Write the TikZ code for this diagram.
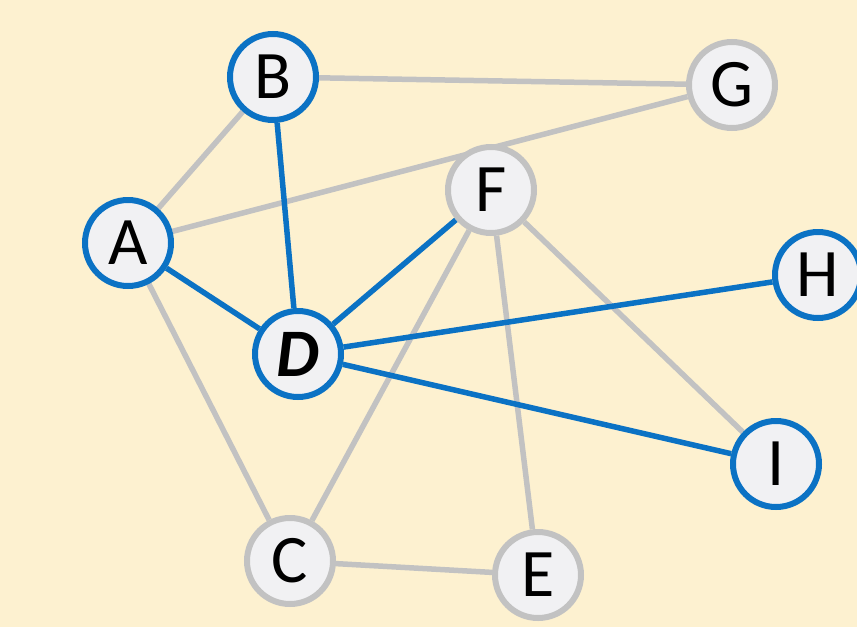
\documentclass[tikz,border=0pt]{standalone}
\usepackage{fontspec}
\setmainfont{Carlito}
\definecolor{bg}{HTML}{FDF1D0}
\definecolor{bl}{HTML}{0B72C4}
\definecolor{gr}{HTML}{C2C2C2}
\definecolor{nf}{HTML}{F1F1F3}
\pgfdeclarelayer{bglayer}
\pgfdeclarelayer{edgelayer}
\pgfsetlayers{bglayer,edgelayer,main}
\begin{document}
\begin{tikzpicture}[x=1pt,y=-1pt,
  vtx/.style={circle,minimum size=86pt,inner sep=0pt,line width=6pt,fill=nf,font=\fontsize{68}{68}\selectfont},
  bv/.style={vtx,draw=bl},
  gv/.style={vtx,draw=gr},
  be/.style={draw=bl,line width=5.5pt},
  ge/.style={draw=gr,line width=5.5pt}]
\begin{pgfonlayer}{bglayer}
\fill[bg] (0,0) rectangle (857,627);
\end{pgfonlayer}
\useasboundingbox (0,0) rectangle (857,627);
\node[bv] (B) at (273,77) {B};
\node[gv] (G) at (732,85) {G};
\node[gv] (F) at (491,190) {F};
\node[bv] (A) at (128,243) {A};
\node[bv] (H) at (818,275) {H};
\node[bv] (D) at (298,354) {\textbf{\textit{D}}};
\node[bv] (I) at (776,464) {I};
\node[gv] (C) at (290,561) {C};
\node[gv] (E) at (538,575) {E};
\begin{pgfonlayer}{edgelayer}
\draw[ge] (B) -- (G);
\draw[ge] (B) -- (A);
\draw[ge] (A) -- (G);
\draw[ge] (A) -- (C);
\draw[ge] (F) -- (C);
\draw[ge] (F) -- (E);
\draw[ge] (F) -- (I);
\draw[ge] (C) -- (E);
\draw[be] (B) -- (D);
\draw[be] (A) -- (D);
\draw[be] (D) -- (F);
\draw[be] (D) -- (H);
\draw[be] (D) -- (I);
\end{pgfonlayer}
\end{tikzpicture}
\end{document}
